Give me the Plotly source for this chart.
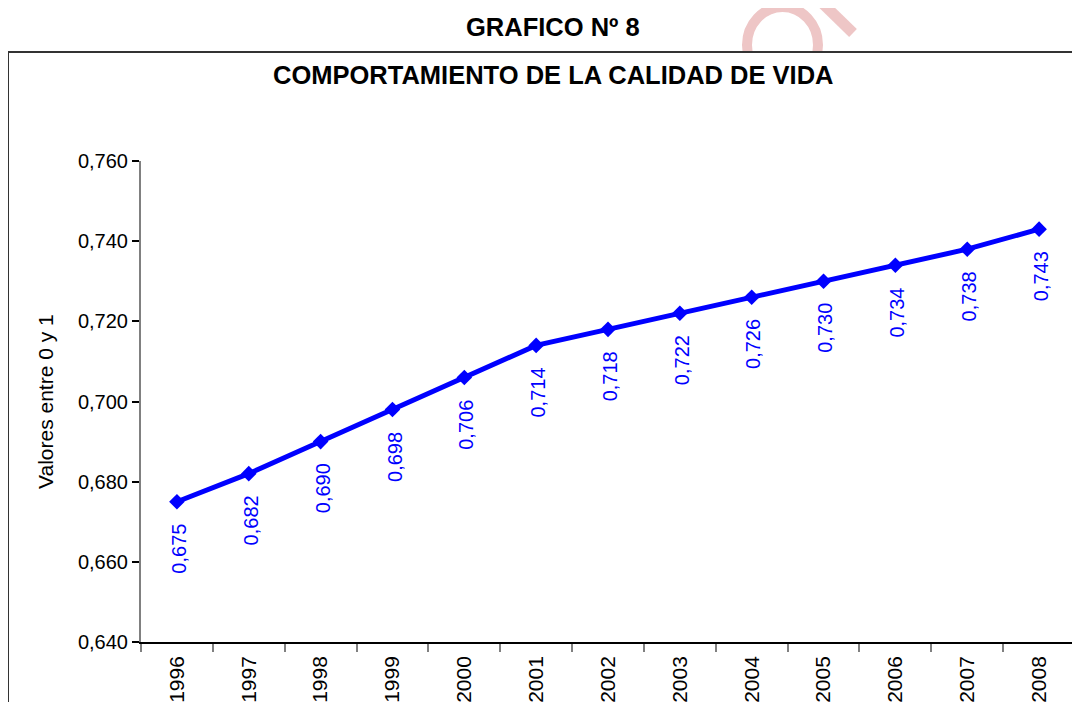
import plotly.graph_objects as go

years = ["1996", "1997", "1998", "1999", "2000", "2001", "2002",
         "2003", "2004", "2005", "2006", "2007", "2008"]
values = [0.675, 0.682, 0.690, 0.698, 0.706, 0.714, 0.718,
          0.722, 0.726, 0.730, 0.734, 0.738, 0.743]
y_ticks = [0.640, 0.660, 0.680, 0.700, 0.720, 0.740, 0.760]
main_title = "GRAFICO Nº 8"
chart_title = "COMPORTAMIENTO DE LA CALIDAD DE VIDA"
y_title = "Valores entre 0 y 1"

FONT = "Liberation Sans, Arial, sans-serif"
BLUE = "#0000FF"
PINK = "#EEC6C6"

# plot area in page pixels: x 141..1075, y 161..642 (page has 8px body margin)
PL, PR, PT, PB = 141, 1075, 161, 642


def px(x):
    return (x - PL) / (PR - PL)


def py(y):
    return (PB - y) / (PB - PT)


fig = go.Figure()
fig.add_trace(go.Scatter(
    x=years, y=values, mode="lines+markers",
    line=dict(color=BLUE, width=5),
    marker=dict(symbol="diamond", size=12, color=BLUE),
    showlegend=False, hoverinfo="skip",
))

annotations = []
for i, v in enumerate(values):
    annotations.append(dict(
        x=i, y=v, xref="x", yref="y",
        text=f"{v:.3f}".replace(".", ","),
        textangle=-90, showarrow=False,
        xanchor="center", yanchor="middle", yshift=-47, xshift=2,
        font=dict(family=FONT, size=20, color=BLUE),
    ))

annotations.append(dict(
    x=px(553), y=py(27), xref="paper", yref="paper", text=f"<b>{main_title}</b>",
    showarrow=False, xanchor="center", yanchor="middle",
    font=dict(family=FONT, size=25.5, color="black"),
))
annotations.append(dict(
    x=px(553), y=py(75), xref="paper", yref="paper", text=f"<b>{chart_title}</b>",
    showarrow=False, xanchor="center", yanchor="middle",
    font=dict(family=FONT, size=25.5, color="black"),
))
annotations.append(dict(
    x=px(45), y=py(402), xref="paper", yref="paper", text=y_title,
    textangle=-90, showarrow=False, xanchor="center", yanchor="middle",
    font=dict(family=FONT, size=21, color="black"),
))

shapes = [
    # faint watermark pieces
    dict(type="circle", xref="paper", yref="paper",
         x0=px(747), x1=px(818), y0=py(83), y1=py(7),
         line=dict(color=PINK, width=10), fillcolor="rgba(0,0,0,0)", layer="below"),
    dict(type="line", xref="paper", yref="paper",
         x0=px(815), y0=py(-4), x1=px(853), y1=py(33),
         line=dict(color=PINK, width=11), layer="below"),
    # chart frame
    dict(type="rect", xref="paper", yref="paper",
         x0=px(8), y0=py(760), x1=px(1200), y1=py(52),
         line=dict(color="#333333", width=2), fillcolor="white", layer="below"),
]

fig.update_layout(
    width=1072, height=694,
    margin=dict(l=PL - 8, r=1072 - (PR - 8), t=PT - 8, b=694 - (PB - 8), autoexpand=False),
    paper_bgcolor="white", plot_bgcolor="rgba(0,0,0,0)",
    separators=",.",
    font=dict(family=FONT, size=20, color="black"),
    annotations=annotations, shapes=shapes,
    xaxis=dict(
        type="category", range=[-0.5, len(years) - 0.5],
        tickson="boundaries", ticks="outside", ticklen=8,
        tickcolor="#808080", tickwidth=1.5, tickangle=-90,
        showline=True, linecolor="black", linewidth=1.5,
        showgrid=False, zeroline=False, automargin=False,
        ticklabelstandoff=4,
        tickfont=dict(family=FONT, size=21, color="black"),
    ),
    yaxis=dict(
        range=[0.640, 0.760], tickvals=y_ticks, tickformat=".3f",
        ticks="outside", ticklen=7, tickcolor="black", tickwidth=1.5,
        showline=True, linecolor="#808080", linewidth=2,
        showgrid=False, zeroline=False, automargin=False,
        tickfont=dict(family=FONT, size=20, color="black"),
    ),
)

fig.write_html("out.html")
